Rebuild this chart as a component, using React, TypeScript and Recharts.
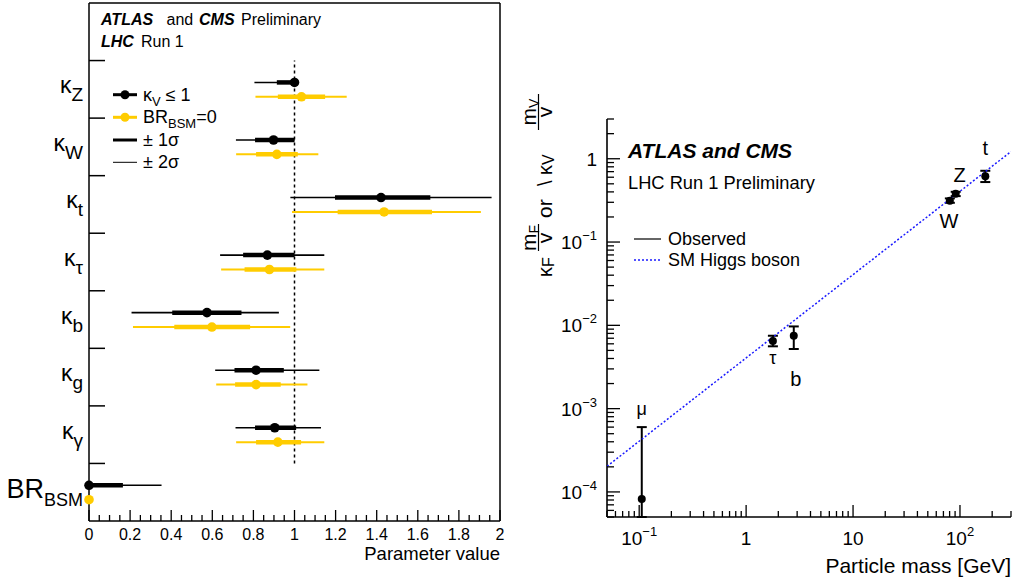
import React from 'react'
import { ScatterChart, Scatter, XAxis, YAxis, ErrorBar, ReferenceLine } from 'recharts'

const FONT = '"Liberation Sans", Arial, Helvetica, sans-serif'
const YELLOW = '#ffcc00'

// ---- left panel: coupling modifiers ----
const paramMain = ['κ', 'κ', 'κ', 'κ', 'κ', 'κ', 'κ', 'BR']
const paramSub = ['Z', 'W', 't', 'τ', 'b', 'g', 'γ', 'BSM']

// kappa_V <= 1 fit (black)
const kvCenter = [1.0, 0.898, 1.421, 0.868, 0.574, 0.813, 0.904, 0.0]
const kv1Lo = [0.914, 0.808, 1.197, 0.75, 0.405, 0.708, 0.808, 0.0]
const kv1Hi = [1.0, 1.0, 1.661, 1.0, 0.742, 0.948, 1.008, 0.165]
const kv2Lo = [0.805, 0.715, 0.98, 0.638, 0.207, 0.614, 0.713, 0.0]
const kv2Hi = [1.0, 1.0, 1.959, 1.145, 0.924, 1.121, 1.129, 0.353]

// BR_BSM = 0 fit (yellow)
const bsmCenter = [1.034, 0.914, 1.436, 0.878, 0.598, 0.813, 0.919, 0.0]
const bsm1Lo = [0.919, 0.813, 1.21, 0.757, 0.415, 0.711, 0.813, 0.0]
const bsm1Hi = [1.149, 1.016, 1.669, 1.009, 0.784, 0.933, 1.032, 0.0]
const bsm2Lo = [0.81, 0.716, 0.988, 0.643, 0.214, 0.619, 0.716, 0.0]
const bsm2Hi = [1.254, 1.116, 1.907, 1.145, 0.979, 1.063, 1.145, 0.0]

const leftXTicks = [
  0, 0.05, 0.1, 0.15, 0.2, 0.25, 0.3, 0.35, 0.4, 0.45, 0.5, 0.55, 0.6, 0.65, 0.7, 0.75, 0.8, 0.85, 0.9, 0.95,
  1, 1.05, 1.1, 1.15, 1.2, 1.25, 1.3, 1.35, 1.4, 1.45, 1.5, 1.55, 1.6, 1.65, 1.7, 1.75, 1.8, 1.85, 1.9, 1.95, 2,
]
const leftXMajor = [0, 0.2, 0.4, 0.6, 0.8, 1, 1.2, 1.4, 1.6, 1.8, 2]
const leftXLabels = ['0', '0.2', '0.4', '0.6', '0.8', '1', '1.2', '1.4', '1.6', '1.8', '2']
const leftYTicks = [0.5, 1, 1.5, 2, 2.5, 3, 3.5, 4, 4.5, 5, 5.5, 6, 6.5, 7, 7.5, 8]

// ---- right panel: reduced couplings vs mass ----
const particles = ['μ', 'τ', 'b', 'W', 'Z', 't']
const particleMass = [0.1057, 1.78, 2.79, 80.4, 91.2, 172.5]
const reducedCoupling = [8.2e-5, 6.5e-3, 7.5e-3, 0.313, 0.38, 0.615]
const couplingLo = [5e-5, 5.6e-3, 5.2e-3, 0.296, 0.356, 0.525]
const couplingHi = [6.0e-4, 7.5e-3, 9.7e-3, 0.334, 0.401, 0.717]

const smMass = [0.05, 300]
const smCoupling = [2.03e-4, 1.22]

const rightXTicks = [
  0.05, 0.06, 0.07, 0.08, 0.09, 0.1, 0.2, 0.3, 0.4, 0.5, 0.6, 0.7, 0.8, 0.9,
  1, 2, 3, 4, 5, 6, 7, 8, 9, 10, 20, 30, 40, 50, 60, 70, 80, 90, 100, 200, 300,
]
const rightXMajor = [0.1, 1, 10, 100]
const rightXLabels = [['10', '−1'], ['1', ''], ['10', ''], ['10', '2']]
const rightYTicks = [
  5e-5, 6e-5, 7e-5, 8e-5, 9e-5,
  1e-4, 2e-4, 3e-4, 4e-4, 5e-4, 6e-4, 7e-4, 8e-4, 9e-4,
  1e-3, 2e-3, 3e-3, 4e-3, 5e-3, 6e-3, 7e-3, 8e-3, 9e-3,
  1e-2, 2e-2, 3e-2, 4e-2, 5e-2, 6e-2, 7e-2, 8e-2, 9e-2,
  0.1, 0.2, 0.3, 0.4, 0.5, 0.6, 0.7, 0.8, 0.9, 1, 2, 3,
]
const rightYMajor = [1e-4, 1e-3, 1e-2, 1e-1, 1]
const rightYLabels = [['10', '−4'], ['10', '−3'], ['10', '−2'], ['10', '−1'], ['1', '']]

// label placement around each particle point (dx, dy, font size)
const labelOffsets: Record<string, [number, number, number]> = {
  'μ': [0, -84, 18],
  'τ': [0, 23, 18],
  'b': [2, 50, 20],
  'W': [-1, 27, 20],
  'Z': [4, -12, 20],
  't': [0, -21, 20],
}

const buildRows = (c: number[], lo1: number[], hi1: number[], lo2: number[], hi2: number[], shift: number) =>
  c.map((v, k) => ({
    x: v,
    y: 7 - k + shift,
    e1: [v - lo1[k], hi1[k] - v],
    e2: [v - lo2[k], hi2[k] - v],
  }))

const kvRows = buildRows(kvCenter, kv1Lo, kv1Hi, kv2Lo, kv2Hi, 0.62)
const bsmRows = buildRows(bsmCenter, bsm1Lo, bsm1Hi, bsm2Lo, bsm2Hi, 0.37)

const particleRows = particles.map((p, i) => ({
  name: p,
  m: particleMass[i],
  k: reducedCoupling[i],
  err: [reducedCoupling[i] - couplingLo[i], couplingHi[i] - reducedCoupling[i]],
}))
const smRows = smMass.map((m, i) => ({ m, k: smCoupling[i] }))

const linIndex = (list: number[], v: number) => list.findIndex((m) => Math.abs(v - m) < 1e-6)
const logIndex = (list: number[], v: number) => list.findIndex((m) => Math.abs(v / m - 1) < 1e-6)

const LeftXTick = (props: any) => {
  const { x, y, payload } = props
  const i = linIndex(leftXMajor, payload.value)
  const major = i >= 0
  return (
    <g>
      <line x1={x} x2={x} y1={y} y2={y - (major ? 11 : 6)} stroke="#000" strokeWidth={1.3} />
      {major && (
        <text x={x} y={y + 19} textAnchor="middle" fontSize={16} fontFamily={FONT} fill="#000">
          {leftXLabels[i]}
        </text>
      )}
    </g>
  )
}

const LeftYTick = (props: any) => {
  const { x, y, payload } = props
  const v = payload.value
  if (Number.isInteger(v)) {
    return <line x1={x} x2={x + 16} y1={y} y2={y} stroke="#000" strokeWidth={1.5} />
  }
  const k = 7 - Math.floor(v)
  const isBR = paramMain[k] === 'BR'
  return (
    <text x={x - 6} y={y + (isBR ? 6 : 4)} textAnchor="end" fontFamily={FONT} fill="#000" fontSize={isBR ? 27 : 23}>
      {paramMain[k]}
      <tspan dy={8} fontSize={isBR ? 18 : 19}>
        {paramSub[k]}
      </tspan>
    </text>
  )
}

const RightXTick = (props: any) => {
  const { x, y, payload, top } = props
  const i = logIndex(rightXMajor, payload.value)
  const len = i >= 0 ? 12 : 6
  const dir = top ? 1 : -1
  return (
    <g>
      <line x1={x} x2={x} y1={y} y2={y + dir * len} stroke="#000" strokeWidth={1.3} />
      {!top && i >= 0 && (
        <text x={x} y={y + 28} textAnchor="middle" fontSize={19} fontFamily={FONT} fill="#000">
          {rightXLabels[i][0]}
          {rightXLabels[i][1] && (
            <tspan dy={-9} fontSize={13}>
              {rightXLabels[i][1]}
            </tspan>
          )}
        </text>
      )}
    </g>
  )
}

const RightYTick = (props: any) => {
  const { x, y, payload, right } = props
  const i = logIndex(rightYMajor, payload.value)
  const len = i >= 0 ? 13 : 7
  const dir = right ? -1 : 1
  return (
    <g>
      <line x1={x} x2={x + dir * len} y1={y} y2={y} stroke="#000" strokeWidth={1.3} />
      {!right && i >= 0 && (
        <text x={x - 10} y={y + 7} textAnchor="end" fontSize={19} fontFamily={FONT} fill="#000">
          {rightYLabels[i][0]}
          {rightYLabels[i][1] && (
            <tspan dy={-9} fontSize={13}>
              {rightYLabels[i][1]}
            </tspan>
          )}
        </text>
      )}
    </g>
  )
}

const dot = (fill: string, r: number) => (p: any) => <circle cx={p.cx} cy={p.cy} r={r} fill={fill} />

const ParticleShape = (p: any) => {
  const name = p.payload?.name
  const off = labelOffsets[name] || [0, 0, 18]
  return (
    <g>
      <circle cx={p.cx} cy={p.cy} r={4} fill="#000" />
      <text x={p.cx + off[0]} y={p.cy + off[1]} textAnchor="middle" fontSize={off[2]} fontFamily={FONT} fill="#000">
        {name}
      </text>
    </g>
  )
}

const Overlay = () => (
  <svg width={1015} height={581} style={{ position: 'absolute', left: 0, top: 0, pointerEvents: 'none' }} fontFamily={FONT}>
    {/* left header */}
    <text y={24.5} fontSize={16} fill="#000">
      <tspan x={101} fontWeight="bold" fontStyle="italic">ATLAS</tspan>
      <tspan x={166.5}>and</tspan>
      <tspan x={199} fontWeight="bold" fontStyle="italic">CMS</tspan>
      <tspan x={241}>Preliminary</tspan>
    </text>
    <text y={46.7} fontSize={16} fill="#000">
      <tspan x={101} fontWeight="bold" fontStyle="italic">LHC</tspan>
      <tspan x={141}>Run 1</tspan>
    </text>

    {/* left legend */}
    <line x1={113} x2={137} y1={94.7} y2={94.7} stroke="#000" strokeWidth={3} />
    <circle cx={125} cy={94.7} r={4.5} fill="#000" />
    <text x={143} y={101} fontSize={18} fill="#000">
      κ<tspan dy={5} fontSize={13}>V</tspan>
      <tspan dy={-5}> ≤ 1</tspan>
    </text>
    <line x1={113} x2={137} y1={117.3} y2={117.3} stroke={YELLOW} strokeWidth={3} />
    <circle cx={125} cy={117.3} r={4.5} fill={YELLOW} />
    <text x={143} y={123} fontSize={18} fill="#000">
      BR<tspan dy={5} fontSize={13}>BSM</tspan>
      <tspan dy={-5}>=0</tspan>
    </text>
    <line x1={113} x2={137} y1={140} y2={140} stroke="#000" strokeWidth={3} />
    <text x={143} y={146} fontSize={18} fill="#000">± 1σ</text>
    <line x1={113} x2={137} y1={162.3} y2={162.3} stroke="#000" strokeWidth={1} />
    <text x={143} y={168} fontSize={18} fill="#000">± 2σ</text>

    <text x={500} y={560} textAnchor="end" fontSize={18.5} fill="#000">Parameter value</text>

    {/* right header + legend */}
    <text x={628} y={158} fontSize={21} fontWeight="bold" fontStyle="italic" fill="#000">ATLAS and CMS</text>
    <text x={628} y={189} fontSize={18.3} fill="#000">LHC Run 1 Preliminary</text>
    <line x1={634} x2={661} y1={239} y2={239} stroke="#000" strokeWidth={1.2} />
    <text x={668} y={245} fontSize={18} fill="#000">Observed</text>
    <line x1={634} x2={661} y1={260} y2={260} stroke="#1a1aff" strokeWidth={1.5} strokeDasharray="2 2" />
    <text x={668} y={266} fontSize={18} fill="#000">SM Higgs boson</text>

    <text x={1011} y={573} textAnchor="end" fontSize={21} fill="#000">Particle mass [GeV]</text>

    {/* right y title, rotated */}
    <g transform="translate(552,280) rotate(-90)" fill="#000">
      <text x={3} y={0} fontSize={20}>
        κ<tspan dy={2} fontSize={16}>F</tspan>
      </text>
      <text x={42} y={-16} textAnchor="middle" fontSize={21}>
        m<tspan dy={3} fontSize={14}>F</tspan>
      </text>
      <line x1={29} x2={56} y1={-13.5} y2={-13.5} stroke="#000" strokeWidth={1.2} />
      <text x={42} y={0} textAnchor="middle" fontSize={21}>v</text>
      <text x={62} y={0} fontSize={21}>or</text>
      <text x={94} y={0} fontSize={20}>
        \ κ<tspan dy={2} fontSize={16}>V</tspan>
      </text>
      <text x={168} y={-16} textAnchor="middle" fontSize={21}>
        m<tspan dy={3} fontSize={14}>V</tspan>
      </text>
      <line x1={150} x2={186} y1={-13.5} y2={-13.5} stroke="#000" strokeWidth={1.2} />
      <text x={168} y={0} textAnchor="middle" fontSize={21}>v</text>
    </g>
  </svg>
)

const App: React.FC = () => {
  return (
    <div style={{ position: 'absolute', left: 0, top: 0, width: 1015, height: 581, background: '#fff', fontFamily: FONT }}>
      <div style={{ position: 'absolute', left: 0, top: 0 }}>
        <ScatterChart width={510} height={581} margin={{ top: 3, right: 10, bottom: 0, left: 0 }}>
          <XAxis
            type="number"
            dataKey="x"
            domain={[0, 2]}
            ticks={leftXTicks}
            interval={0}
            height={60}
            tickSize={0}
            tickMargin={0}
            tickLine={false}
            tick={<LeftXTick />}
            axisLine={{ stroke: '#000', strokeWidth: 1.5 }}
          />
          <YAxis
            type="number"
            dataKey="y"
            domain={[0, 9]}
            ticks={leftYTicks}
            interval={0}
            width={89}
            tickSize={0}
            tickMargin={0}
            tickLine={false}
            tick={<LeftYTick />}
            axisLine={{ stroke: '#000', strokeWidth: 1.5 }}
          />
          <ReferenceLine y={9} stroke="#000" strokeWidth={1.5} />
          <ReferenceLine x={2} stroke="#000" strokeWidth={1.5} />
          <ReferenceLine
            segment={[{ x: 1, y: 1 }, { x: 1, y: 8 }]}
            stroke="#000"
            strokeWidth={1.5}
            strokeDasharray="3 3"
          />
          <Scatter data={bsmRows} isAnimationActive={false} shape={dot(YELLOW, 4.8)}>
            <ErrorBar dataKey="e2" direction="x" width={0} stroke={YELLOW} strokeWidth={2} />
            <ErrorBar dataKey="e1" direction="x" width={0} stroke={YELLOW} strokeWidth={4.5} />
          </Scatter>
          <Scatter data={kvRows} isAnimationActive={false} shape={dot('#000', 4.8)}>
            <ErrorBar dataKey="e2" direction="x" width={0} stroke="#000" strokeWidth={1.6} />
            <ErrorBar dataKey="e1" direction="x" width={0} stroke="#000" strokeWidth={4.5} />
          </Scatter>
        </ScatterChart>
      </div>

      <div style={{ position: 'absolute', left: 510, top: 0 }}>
        <ScatterChart width={505} height={581} margin={{ top: 119, right: 4, bottom: 0, left: 0 }}>
          <XAxis
            type="number"
            dataKey="m"
            scale="log"
            domain={[0.05, 300]}
            allowDataOverflow
            ticks={rightXTicks}
            interval={0}
            height={64}
            tickSize={0}
            tickMargin={0}
            tickLine={false}
            tick={<RightXTick />}
            axisLine={{ stroke: '#000', strokeWidth: 1.6 }}
          />
          <XAxis
            xAxisId="top"
            orientation="top"
            type="number"
            scale="log"
            domain={[0.05, 300]}
            allowDataOverflow
            ticks={rightXTicks}
            interval={0}
            height={0}
            tickSize={0}
            tickMargin={0}
            tickLine={false}
            tick={<RightXTick top />}
            axisLine={{ stroke: '#000', strokeWidth: 1.6 }}
          />
          <YAxis
            type="number"
            dataKey="k"
            scale="log"
            domain={[5e-5, 3]}
            allowDataOverflow
            ticks={rightYTicks}
            interval={0}
            width={97}
            tickSize={0}
            tickMargin={0}
            tickLine={false}
            tick={<RightYTick />}
            axisLine={{ stroke: '#000', strokeWidth: 1.6 }}
          />
          <YAxis
            yAxisId="right"
            orientation="right"
            type="number"
            scale="log"
            domain={[5e-5, 3]}
            allowDataOverflow
            ticks={rightYTicks}
            interval={0}
            width={0}
            tickSize={0}
            tickMargin={0}
            tickLine={false}
            tick={<RightYTick right />}
            axisLine={{ stroke: '#000', strokeWidth: 1.6 }}
          />
          <Scatter
            data={smRows}
            isAnimationActive={false}
            line={{ stroke: '#1a1aff', strokeWidth: 1.5, strokeDasharray: '2 2' }}
            shape={() => <g />}
          />
          <Scatter data={particleRows} isAnimationActive={false} shape={<ParticleShape />}>
            <ErrorBar dataKey="err" direction="y" width={5} stroke="#000" strokeWidth={2} />
          </Scatter>
        </ScatterChart>
      </div>

      <Overlay />
    </div>
  )
}

export default App
